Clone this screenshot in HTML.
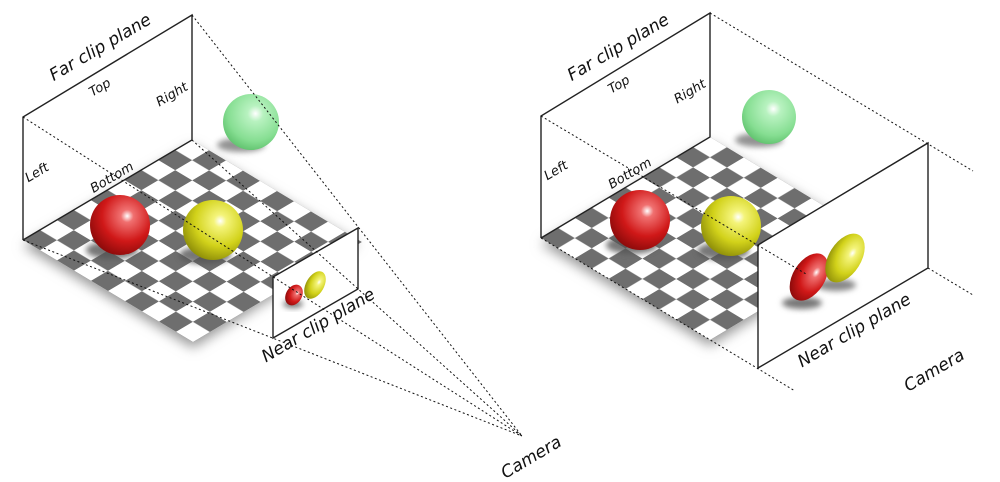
<!DOCTYPE html>
<html><head><meta charset="utf-8"><style>
html,body{margin:0;padding:0;background:#fff;}
svg{display:block;}
text{font-family:"DejaVu Sans","Liberation Sans",sans-serif;font-style:italic;fill:#111;}
</style></head><body>
<svg width="1000" height="482" viewBox="0 0 1000 482" xmlns="http://www.w3.org/2000/svg">
<defs>
<pattern id="chk" width="2" height="2" patternUnits="userSpaceOnUse">
<rect width="2" height="2" fill="#fff"/>
<rect width="1" height="1" fill="#6e6e6e"/>
<rect x="1" y="1" width="1" height="1" fill="#6e6e6e"/>
</pattern>
<filter id="blur" x="-30%" y="-30%" width="160%" height="160%"><feGaussianBlur stdDeviation="6"/></filter>
<filter id="blur2" x="-50%" y="-50%" width="200%" height="200%"><feGaussianBlur stdDeviation="3"/></filter>
<radialGradient id="gr" cx="0.62" cy="0.35" r="0.7"><stop offset="0" stop-color="#fff"/><stop offset="0.15" stop-color="#f07070"/><stop offset="0.6" stop-color="#d01818"/><stop offset="1" stop-color="#8a0a0a"/></radialGradient>
<radialGradient id="gy" cx="0.62" cy="0.35" r="0.7"><stop offset="0" stop-color="#fff"/><stop offset="0.15" stop-color="#f4f47a"/><stop offset="0.6" stop-color="#d2d21a"/><stop offset="1" stop-color="#8c8c08"/></radialGradient>
<radialGradient id="gg" cx="0.58" cy="0.35" r="0.7"><stop offset="0" stop-color="#fff"/><stop offset="0.2" stop-color="#b8f2c0"/><stop offset="0.7" stop-color="#86de92"/><stop offset="1" stop-color="#5cbf6a"/></radialGradient>
</defs>

<!-- LEFT DIAGRAM -->
<polygon points="23,246 192,146 358,244 193,348" fill="#999" filter="url(#blur)"/>
<g transform="matrix(16.9,-10,17,10.2,23,240)"><rect width="10" height="10" fill="url(#chk)"/></g>
<polyline points="23,240 23,117 192,15 192,140 23,240" fill="none" stroke="#222" stroke-width="1.4"/>
<ellipse cx="112" cy="250" rx="26" ry="9" fill="#555" filter="url(#blur2)" opacity="0.8"/>
<ellipse cx="205" cy="255" rx="26" ry="9" fill="#555" filter="url(#blur2)" opacity="0.8"/>
<ellipse cx="241" cy="145" rx="24" ry="7" fill="#777" filter="url(#blur2)" opacity="0.8"/>
<circle cx="120" cy="225" r="30" fill="url(#gr)"/>
<circle cx="213" cy="230" r="30" fill="url(#gy)"/>
<circle cx="251" cy="122" r="28" fill="url(#gg)"/>
<polygon points="273,277 358,228 358,289 273,338" fill="#fff" stroke="#222" stroke-width="1.4"/>
<ellipse cx="293" cy="304" rx="10" ry="4" fill="#777" filter="url(#blur2)"/>
<ellipse cx="294" cy="295" rx="8" ry="11" transform="rotate(30 294 295)" fill="url(#gr)"/>
<ellipse cx="315" cy="285" rx="9" ry="15" transform="rotate(30 315 285)" fill="url(#gy)"/>
<g stroke="#111" stroke-width="1" stroke-dasharray="2,2.5" fill="none">
<line x1="192" y1="15" x2="522" y2="436"/>
<line x1="23" y1="117" x2="522" y2="436"/>
<line x1="23" y1="240" x2="522" y2="436"/>
<line x1="192" y1="140" x2="522" y2="436"/>
</g>
<text transform="translate(103,52) rotate(-30.6)" font-size="17" text-anchor="middle">Far clip plane</text>
<text transform="translate(102,91) rotate(-30.6)" font-size="13" text-anchor="middle">Top</text>
<text transform="translate(174,98) rotate(-30.6)" font-size="13" text-anchor="middle">Right</text>
<text transform="translate(39,176) rotate(-30.6)" font-size="13" text-anchor="middle">Left</text>
<text transform="translate(114,181) rotate(-30.6)" font-size="13" text-anchor="middle">Bottom</text>
<text transform="translate(321,330) rotate(-30.6)" font-size="17" text-anchor="middle">Near clip plane</text>
<text transform="translate(534,462) rotate(-30.6)" font-size="17" text-anchor="middle">Camera</text>

<!-- RIGHT DIAGRAM -->
<polygon points="541,244 710,143 879,242 710,346" fill="#999" filter="url(#blur)"/>
<g transform="matrix(16.9,-10.1,16.9,10.2,541,238)"><rect width="10" height="10" fill="url(#chk)"/></g>
<polyline points="541,238 541,116 710,13 710,137 541,238" fill="none" stroke="#222" stroke-width="1.4"/>
<ellipse cx="632" cy="245" rx="26" ry="9" fill="#555" filter="url(#blur2)" opacity="0.8"/>
<ellipse cx="723" cy="251" rx="26" ry="9" fill="#555" filter="url(#blur2)" opacity="0.8"/>
<ellipse cx="759" cy="140" rx="24" ry="7" fill="#777" filter="url(#blur2)" opacity="0.8"/>
<circle cx="640" cy="220" r="30" fill="url(#gr)"/>
<circle cx="731" cy="226" r="30" fill="url(#gy)"/>
<circle cx="769" cy="117" r="27" fill="url(#gg)"/>
<line x1="825" y1="205" x2="928" y2="143" stroke="#222" stroke-width="1.4"/>
<polygon points="758,245 928,143 928,268 758,368" fill="#fff" stroke="#222" stroke-width="1.4"/>
<ellipse cx="802" cy="303" rx="20" ry="6" fill="#777" filter="url(#blur2)"/>
<ellipse cx="836" cy="285" rx="20" ry="6" fill="#888" filter="url(#blur2)"/>
<ellipse cx="809" cy="277" rx="16" ry="26" transform="rotate(32 809 277)" fill="url(#gr)"/>
<ellipse cx="845" cy="258" rx="16" ry="27" transform="rotate(32 845 258)" fill="url(#gy)"/>
<g stroke="#111" stroke-width="1" stroke-dasharray="2,2.5" fill="none">
<line x1="710" y1="13" x2="973" y2="171"/>
<line x1="541" y1="116" x2="806" y2="274"/>
<line x1="928" y1="268" x2="973" y2="295"/>
<line x1="541" y1="238" x2="795" y2="391"/>
</g>
<text transform="translate(621,52) rotate(-30.6)" font-size="17" text-anchor="middle">Far clip plane</text>
<text transform="translate(621,88) rotate(-30.6)" font-size="13" text-anchor="middle">Top</text>
<text transform="translate(692,95) rotate(-30.6)" font-size="13" text-anchor="middle">Right</text>
<text transform="translate(558,174) rotate(-30.6)" font-size="13" text-anchor="middle">Left</text>
<text transform="translate(632,177) rotate(-30.6)" font-size="13" text-anchor="middle">Bottom</text>
<text transform="translate(857,335) rotate(-30.6)" font-size="17" text-anchor="middle">Near clip plane</text>
<text transform="translate(937,375) rotate(-30.6)" font-size="17" text-anchor="middle">Camera</text>
</svg>
</body></html>
